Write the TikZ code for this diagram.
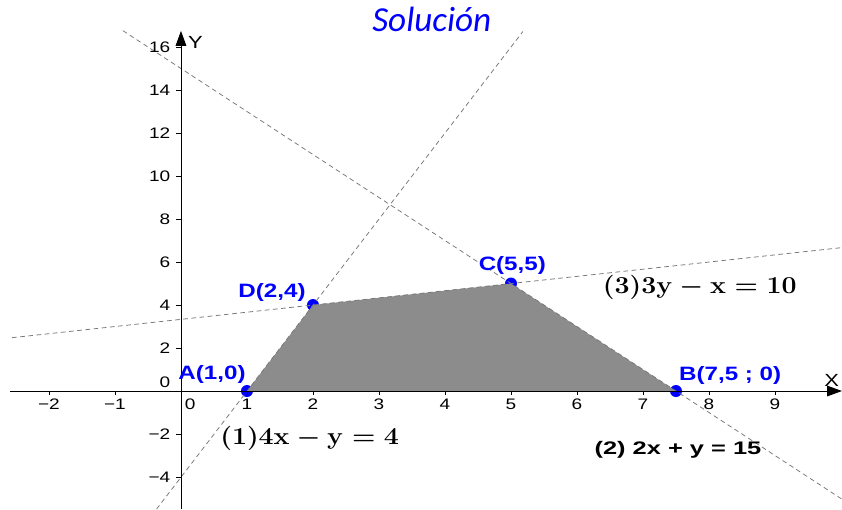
\documentclass[tikz,border=0pt]{standalone}
\usepackage{fontspec}
\setsansfont{Liberation Sans}
\newfontfamily\solfont{Carlito}
\usepackage{graphicx}
\usetikzlibrary{arrows.meta,positioning}
\definecolor{cPt}{HTML}{0000FF}
\definecolor{cReg}{HTML}{8C8C8C}
\definecolor{cLine}{HTML}{777777}
\newcommand{\wide}[2][1.25]{\scalebox{#1}[1]{#2}}
\tikzset{
  pt/.style={circle,fill=cPt,inner sep=0pt,minimum size=3.6mm},
  rstr/.style={line width=.65pt,cLine,dash pattern=on 4pt off 3pt},
  ax/.style={line width=.8pt,-{Triangle[length=4.5mm,width=3.2mm]}},
  tk/.style={line width=.6pt},
  tlbl/.style={font=\sffamily\fontsize{13}{13}\selectfont},
  plbl/.style={font=\sffamily\bfseries\fontsize{16.5}{16.5}\selectfont,text=cPt},
  eqn/.style={font=\fontsize{20}{20}\selectfont},
}

\begin{document}
\begin{tikzpicture}[x=1.98cm,y=0.645cm]
  \useasboundingbox (-2.742,-5.488) rectangle (10.015,18.186);
  % feasible region
  \node[pt] (A) at (1,0) {};
  \node[pt] (D) at (2,4) {};
  \node[pt] (C) at (5,5) {};
  \node[pt] (B) at (7.5,0) {};
  \fill[cReg] (A.center) -- (D.center) -- (C.center) -- (B.center) -- cycle;
  % restrictions
  \coordinate (l1a) at (-0.37,-5.49);
  \coordinate (l1b) at (5.18,16.72);
  \coordinate (l2a) at (-0.88,16.76);
  \coordinate (l2b) at (10.015,-5.03);
  \coordinate (l3a) at (-2.56,2.48);
  \coordinate (l3b) at (10.015,6.67);
  \draw[rstr] (l1a) -- (l1b);
  \draw[rstr] (l2a) -- (l2b);
  \draw[rstr] (l3a) -- (l3b);
  % axes
  \coordinate (xa) at (-2.59,0);
  \coordinate (xb) at (10.015,0);
  \coordinate (ya) at (0,-5.49);
  \coordinate (yb) at (0,16.75);
  \draw[ax] (xa) -- (xb);
  \draw[ax] (ya) -- (yb);
  \node[tlbl,font=\sffamily\fontsize{15}{15}\selectfont] (X) at (9.86,0.5) {\wide{X}};
  \node[tlbl,font=\sffamily\fontsize{15}{15}\selectfont] (Y) at (0.22,16.23) {\wide{Y}};
  \foreach \i/\t in {-2/−2,-1/−1,1/1,2/2,3/3,4/4,5/5,6/6,7/7,8/8,9/9}{
    \draw[tk] (\i,0) -- ++(0,-0.18);
    \node[tlbl] at (\i,-0.62) {\wide{\t}};
  }
  \node[tlbl] (x0) at (0.14,-0.62) {\wide{0}};
  \foreach \j/\t in {-4/−4,-2/−2,2/2,4/4,6/6,8/8,10/10,12/12,14/14,16/16}{
    \draw[tk] (0,\j) -- ++(-0.07,0);
    \node[tlbl,anchor=east] at (-0.1,\j) {\wide{\t}};
  }
  \node[tlbl,anchor=east] (y0) at (-0.1,0.42) {\wide{0}};
  % vertices
  \node[plbl] (lA) at (0.47,0.79) {\wide{A(1,0)}};
  \node[plbl] (lD) at (1.38,4.56) {\wide{D(2,4)}};
  \node[plbl] (lC) at (5.02,5.86) {\wide{C(5,5)}};
  \node[plbl] (lB) at (8.32,0.74) {\wide{B(7,5 ; 0)}};
  % equations
  \node[eqn] (e1) at (1.95,-2.19) {\wide[1.1]{\boldmath$\mathbf{(1)4x-y=4}$}};
  \node[eqn] (e3) at (7.86,4.84) {\wide[1.1]{\boldmath$\mathbf{(3)3y-x=10}$}};
  \node[plbl,text=black,font=\sffamily\bfseries\fontsize{15.5}{15.5}\selectfont] (e2) at (7.53,-2.74) {\wide[1.4]{(2) 2x + y = 15}};
  \node[font=\solfont\itshape\fontsize{30}{30}\selectfont,text=cPt] (sol) at (3.80,17.3) {Solución};
\end{tikzpicture}
\end{document}
